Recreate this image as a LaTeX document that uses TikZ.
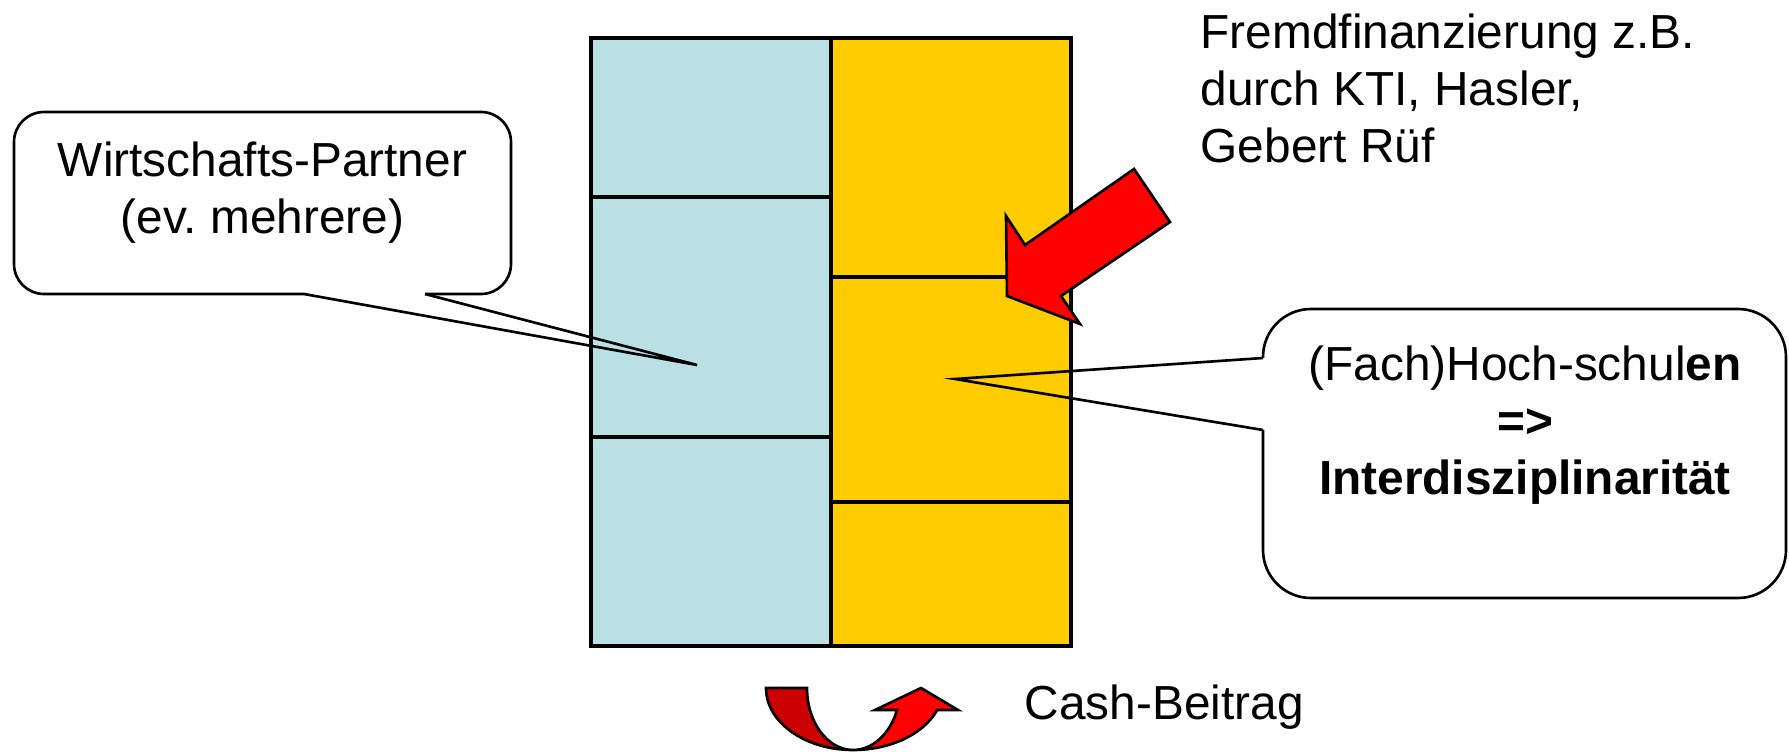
\documentclass[tikz,border=0pt]{standalone}
\usepackage{fontspec}
\setmainfont{Liberation Sans}
\definecolor{partnerblau}{HTML}{BBE0E3}
\definecolor{hsgelb}{HTML}{FFCC00}
\definecolor{dunkelrot}{HTML}{CC0000}
\tikzset{
  partnerzelle/.style={fill=partnerblau, draw=black, line width=0.9pt},
  hszelle/.style={fill=hsgelb, draw=black, line width=0.9pt},
  sprechblase/.style={draw=black, line width=0.75pt},
  pfeilform/.style={draw=black, line width=0.75pt, line join=miter},
  beschriftung/.style={inner sep=0pt, font=\fontsize{13.6}{16.3}\selectfont}
}
\begin{document}
\frenchspacing
\begin{tikzpicture}
            \useasboundingbox (0,0) rectangle (17.89,7.53);
            % Partner (links) und Hochschulen (rechts)
            \draw[partnerzelle] (5.91,7.15) rectangle (8.31,5.56);
            \draw[partnerzelle] (5.91,5.56) rectangle (8.31,3.16);
            \draw[partnerzelle] (5.91,3.16) rectangle (8.31,1.07);
            \draw[hszelle] (8.31,7.15) rectangle (10.71,4.76);
            \draw[hszelle] (8.31,4.76) rectangle (10.71,2.51);
            \draw[hszelle] (8.31,2.51) rectangle (10.71,1.07);
            % Sprechblase links
            \coordinate (wpspitze) at (6.97,3.88);
            \draw[sprechblase, rounded corners=0.3cm] (3.04,4.59) -- (0.14,4.59) -- (0.14,6.41) -- (5.11,6.41) -- (5.11,4.59) -- (4.25,4.59);
            \draw[sprechblase] (3.04,4.59) -- (wpspitze) -- (4.25,4.59);
            \node[beschriftung, align=center, anchor=base] (wp) at (2.625,5.19) {Wirtschafts-Partner\\(ev. mehrere)};
            % Sprechblase rechts
            \coordinate (hsspitze) at (9.55,3.74);
            \draw[sprechblase, rounded corners=0.48cm] (12.63,3.95) -- (12.63,4.44) -- (17.86,4.44) -- (17.86,1.55) -- (12.63,1.55) -- (12.63,3.23);
            \draw[sprechblase] (12.63,3.95) -- (hsspitze) -- (12.63,3.23);
            \node[beschriftung, align=center, anchor=base] (hs) at (15.25,2.58) {(Fach)Hoch-schul\textbf{en}\\\textbf{=>}\\\textbf{Interdisziplinarität}};
            % Fremdfinanzierung
            \node[beschriftung, align=left, anchor=base west] (fremd) at (12.00,5.90) {Fremdfinanzierung z.B.\\durch KTI, Hasler,\\Gebert Rüf};
            \filldraw[pfeilform, fill=red] (11.34,5.84) -- (11.70,5.31) -- (10.61,4.57) -- (10.80,4.29) -- (10.07,4.57) -- (10.06,5.37) -- (10.25,5.08) -- cycle;
            % Cash-Beitrag
            \filldraw[pfeilform, fill=dunkelrot] (7.66,0.65) arc[start angle=180, end angle=270, x radius=0.87, y radius=0.62]
                arc[start angle=270, end angle=180, x radius=0.46, y radius=0.62] -- cycle;
            \filldraw[pfeilform, fill=red] (8.53,0.03) arc[start angle=270, end angle=339.2, x radius=0.90, y radius=0.62]
                -- (9.58,0.43) -- (9.21,0.65) -- (8.75,0.43) -- (8.97,0.43)
                arc[start angle=-20.8, end angle=-90, x radius=0.47, y radius=0.62] -- cycle;
            \node[beschriftung, anchor=base west] (cash) at (10.24,0.34) {Cash-Beitrag};
\end{tikzpicture}
\end{document}
